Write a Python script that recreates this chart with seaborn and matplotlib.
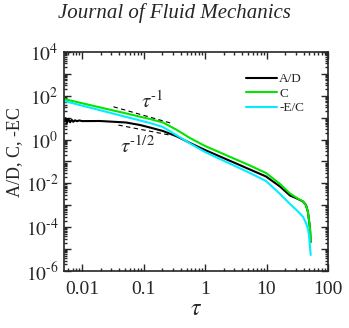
import numpy as np
import pandas as pd
import matplotlib
matplotlib.use("Agg")
import matplotlib.pyplot as plt
from matplotlib.ticker import FixedLocator, FixedFormatter, LogLocator, NullFormatter
import seaborn as sns

# ---------------- data ----------------
tau_ad = [0.00509, 0.0054, 0.0057, 0.0060, 0.0064, 0.0068, 0.0072, 0.0077, 0.0083,
          0.0090, 0.0100, 0.0196, 0.0519, 0.0877, 0.127, 0.207, 0.350, 0.570, 1.0,
          1.75, 3.07, 5.38, 9.8, 16.6, 24.1, 31.3, 39.2, 43.8, 47.2, 50.9, 52.3]
ad = [6.7, 9.5, 5.8, 8.8, 6.2, 8.0, 6.5, 7.6, 6.9, 7.5, 7.0, 7.07, 6.04, 4.64, 3.57,
      2.47, 1.39, 0.70, 0.335, 0.169, 0.0855, 0.0431, 0.0207, 0.0072, 0.0028,
      0.00204, 0.00149, 0.00103, 0.000494, 9.2e-5, 2.1e-5]

tau_c = [0.00509, 0.0196, 0.0519, 0.127, 0.207, 0.350, 0.570, 1.0, 1.75, 3.07, 5.38,
         9.8, 16.6, 24.1, 31.3, 39.2, 43.8, 47.2, 50.9, 52.3]
c = [71.4, 29.5, 15.7, 8.73, 6.04, 2.74, 1.18, 0.511, 0.258, 0.130, 0.0656, 0.0299,
     0.0094, 0.00346, 0.00215, 0.00149, 0.00103, 0.000494, 9.2e-5, 2.1e-5]

tau_ec = [0.00509, 0.0196, 0.0519, 0.127, 0.207, 0.350, 0.570, 1.0, 1.75, 3.07, 5.38,
          9.8, 16.6, 24.1, 31.3, 39.2, 43.8, 47.2, 49.1, 52.3]
ec = [58.0, 22.0, 10.9, 5.73, 3.76, 1.54, 0.664, 0.272, 0.130, 0.0623, 0.0299, 0.0129,
      0.00328, 0.00115, 0.00058, 0.00030, 0.000156, 8.3e-5, 4.4e-5, 5.4e-6]

ref1_tau = [0.0325, 0.289]
ref1_val = [31.6, 5.5]
ref2_tau = [0.039, 0.27]
ref2_val = [4.6, 1.6]

series_names = ["A/D", "C", "-E/C"]
series_colors = ["#000000", "#00e600", "#00eeff"]

xtick_vals = [0.01, 0.1, 1, 10, 100]
xtick_labels = ["0.01", "0.1", "1", "10", "100"]
ytick_vals = [1e-6, 1e-5, 1e-4, 1e-3, 1e-2, 1e-1, 1e0, 1e1, 1e2, 1e3, 1e4]
ytick_labels = [r"$10^{\text{-6}}$", "", r"$10^{\text{-4}}$", "", r"$10^{\text{-2}}$", "",
                r"$10^{\text{0}}$", "", r"$10^{\text{2}}$", "", r"$10^{\text{4}}$"]

df = pd.concat([
    pd.DataFrame({"tau": tau_ad, "val": ad, "series": series_names[0]}),
    pd.DataFrame({"tau": tau_c, "val": c, "series": series_names[1]}),
    pd.DataFrame({"tau": tau_ec, "val": ec, "series": series_names[2]}),
], ignore_index=True)

# ---------------- style ----------------
sns.set_style("ticks")
plt.rcParams["font.family"] = ["Liberation Serif", "DejaVu Serif"]
plt.rcParams["mathtext.fontset"] = "stix"

fig = plt.figure(figsize=(3.49, 3.28), dpi=100)
ax = fig.add_axes([64 / 349, 1 - 271 / 328, (328 - 64) / 349, (271 - 52) / 328])

sns.lineplot(data=df, x="tau", y="val", hue="series", hue_order=series_names,
             palette=dict(zip(series_names, series_colors)), estimator=None,
             sort=False, linewidth=1.5, ax=ax)

ax.plot(ref1_tau, ref1_val, color="black", ls=(0, (4, 3)), lw=0.8)
ax.plot(ref2_tau, ref2_val, color="black", ls=(0, (4, 3)), lw=0.8)

ax.set_xscale("log")
ax.set_yscale("log")
ax.set_xlim(0.00509, 100)
ax.set_ylim(1e-6, 1e4)

ax.xaxis.set_major_locator(FixedLocator(xtick_vals))
ax.xaxis.set_major_formatter(FixedFormatter(xtick_labels))
ax.xaxis.set_minor_locator(LogLocator(base=10, subs=np.arange(2, 10), numticks=20))
ax.xaxis.set_minor_formatter(NullFormatter())
ax.yaxis.set_major_locator(FixedLocator(ytick_vals))
ax.yaxis.set_major_formatter(FixedFormatter(ytick_labels))
ax.yaxis.set_minor_locator(LogLocator(base=10, subs=np.arange(2, 10), numticks=30))
ax.yaxis.set_minor_formatter(NullFormatter())

ax.tick_params(which="both", direction="in", top=True, right=True, width=1.0)
ax.tick_params(which="major", length=5, labelsize=14)
ax.tick_params(axis="x", which="major", pad=7)
ax.tick_params(axis="y", which="major", pad=4)
ax.tick_params(which="minor", length=2.5)
for s in ax.spines.values():
    s.set_linewidth(1.2)

ax.set_xlabel(r"$\tau$", fontsize=17, labelpad=1)
ax.set_ylabel("A/D, C, -EC", fontsize=13)
ax.yaxis.set_label_coords(-0.155, 0.543)

ax.text(0.092, 50, r"$\tau^{\text{-1}}$", fontsize=15, va="center", ha="left")
ax.text(0.042, 0.45, r"$\tau^{\text{-1/2}}$", fontsize=15, va="center", ha="left")

leg = ax.legend(loc="upper right", bbox_to_anchor=(0.93, 0.928), frameon=False,
                fontsize=9.5, handlelength=2.35, handletextpad=0.15, labelspacing=0.17,
                borderaxespad=0.0)

fig.text(0.5, 1 - 13 / 328, "Journal of Fluid Mechanics", ha="center", va="center",
         fontsize=15, style="italic")

fig.savefig("out.png", dpi=100)
